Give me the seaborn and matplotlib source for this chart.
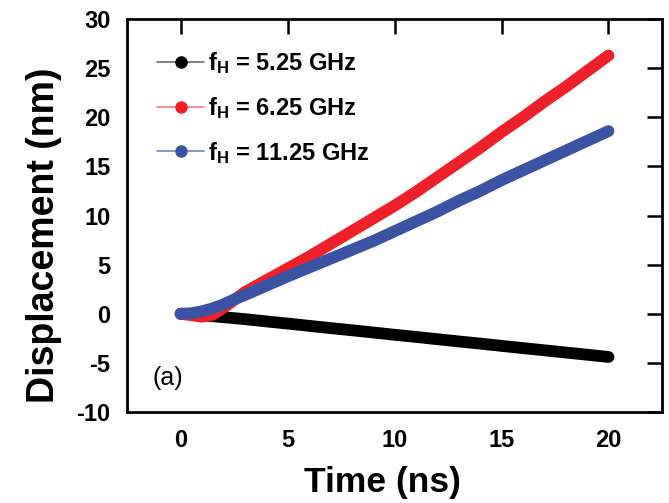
import numpy as np
import pandas as pd
import matplotlib
matplotlib.use("Agg")
import matplotlib.pyplot as plt
from matplotlib.lines import Line2D
import seaborn as sns

# time samples (ns) and displacement (nm) for each resonance frequency
time_ns = [0, 0.5, 1, 1.5, 2, 2.5, 3, 4, 5, 6, 7, 8, 9, 10, 11, 12, 13, 14, 15, 16, 17, 18, 19, 20]
disp_525 = [0, -0.05, -0.15, -0.25, -0.35, -0.45, -0.55, -0.78, -1.0, -1.23, -1.46, -1.68, -1.91,
            -2.14, -2.36, -2.59, -2.82, -3.04, -3.27, -3.5, -3.72, -3.95, -4.17, -4.4]
disp_625 = [0, -0.15, -0.3, -0.1, 0.6, 1.4, 2.2, 3.4, 4.6, 5.8, 7.1, 8.4, 9.7,
            11.0, 12.4, 13.9, 15.4, 16.9, 18.5, 20.0, 21.6, 23.1, 24.7, 26.3]
disp_1125 = [0, 0.05, 0.25, 0.55, 0.95, 1.45, 1.9, 2.85, 3.8, 4.7, 5.6, 6.5, 7.4,
             8.4, 9.4, 10.4, 11.5, 12.5, 13.6, 14.6, 15.6, 16.6, 17.6, 18.6]

labels = [r"$\mathbf{f_H}$ = 5.25 GHz", r"$\mathbf{f_H}$ = 6.25 GHz", r"$\mathbf{f_H}$ = 11.25 GHz"]
colors = ["#000000", "#EE2128", "#3A53A4"]
legend_line_colors = ["#7a7a7a", "#f4878b", "#7f8fc4"]

df = pd.concat([
    pd.DataFrame({"Time": time_ns, "Disp": d, "series": lab})
    for d, lab in zip([disp_525, disp_625, disp_1125], labels)
])

sns.set_theme(style="white")
plt.rcParams["font.family"] = ["Liberation Sans", "DejaVu Sans"]
plt.rcParams["mathtext.fontset"] = "custom"
plt.rcParams["mathtext.rm"] = "Liberation Sans"
plt.rcParams["mathtext.bf"] = "Liberation Sans:bold"
plt.rcParams["axes.unicode_minus"] = False
plt.rcParams["text.color"] = "black"
plt.rcParams["axes.labelcolor"] = "black"
plt.rcParams["xtick.color"] = "black"
plt.rcParams["ytick.color"] = "black"

fig = plt.figure(figsize=(6.69, 5.03), dpi=100)
ax = fig.add_axes([0.19, 0.181, 0.7995, 0.781])

sns.lineplot(data=df, x="Time", y="Disp", hue="series", hue_order=labels,
             palette=colors, linewidth=8.5, ax=ax, legend=False,
             estimator=None, sort=False)
for ln in ax.lines:
    ln.set_solid_capstyle("round")
    ln.set_solid_joinstyle("round")

ax.set_xlim(-2.5, 22.5)
ax.set_ylim(-10, 30)
ax.set_xticks([0, 5, 10, 15, 20])
ax.set_yticks(range(-10, 31, 5))

ax.set_xlabel("Time (ns)", fontsize=25.5, fontweight="bold")
ax.set_ylabel("Displacement (nm)", fontsize=27, fontweight="bold")
ax.xaxis.set_label_coords(0.4776, -0.138)
ax.yaxis.set_label_coords(-0.122, 0.45)

ax.tick_params(axis="both", which="major", direction="in", length=11, width=1.8,
               top=True, right=True, labelsize=17, pad=12, color="black",
               labelcolor="black")
for lab in ax.get_xticklabels() + ax.get_yticklabels():
    lab.set_fontweight("bold")
for sp in ax.spines.values():
    sp.set_linewidth(2.0)
    sp.set_color("black")

ax.text(-1.3, -6.5, "(a)", fontsize=18, ha="left", va="center")

handles = [Line2D([0], [0], color=lc, lw=1.3, marker="o", markersize=8,
                  markerfacecolor=c, markeredgecolor=c)
           for c, lc in zip(colors, legend_line_colors)]
leg = ax.legend(handles, labels, loc="upper left", bbox_to_anchor=(0.016, 0.975),
                frameon=False, prop={"size": 17, "weight": "bold"},
                handlelength=2.0, handletextpad=0.15, labelspacing=0.8)
for t in leg.get_texts():
    t.set_color("black")

fig.savefig("out.png", dpi=100)
